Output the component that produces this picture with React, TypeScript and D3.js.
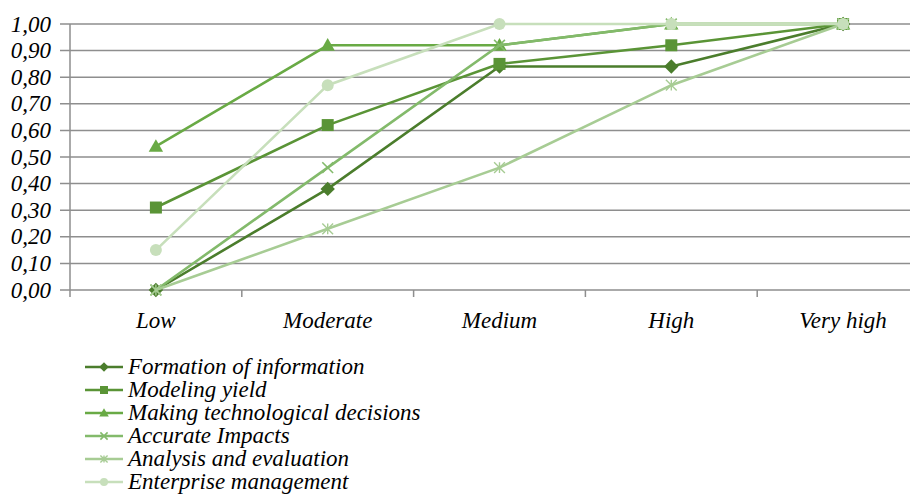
import React from "react";
import * as d3 from "d3";

const categories = ["Low", "Moderate", "Medium", "High", "Very high"];
const seriesNames = [
  "Formation of information",
  "Modeling yield",
  "Making technological decisions",
  "Accurate Impacts",
  "Analysis and evaluation",
  "Enterprise management",
];
const formation = [0, 0.38, 0.84, 0.84, 1.0];
const modeling = [0.31, 0.62, 0.85, 0.92, 1.0];
const making = [0.54, 0.92, 0.92, 1.0, 1.0];
const accurate = [0, 0.46, 0.92, 1.0, 1.0];
const analysis = [0, 0.23, 0.46, 0.77, 1.0];
const enterprise = [0.15, 0.77, 1.0, 1.0, 1.0];
const yTicks = [0, 0.1, 0.2, 0.3, 0.4, 0.5, 0.6, 0.7, 0.8, 0.9, 1.0];

const seriesValues = [formation, modeling, making, accurate, analysis, enterprise];
const colors = ["#4b7d2c", "#5a9436", "#69aa45", "#83ba6b", "#a7cc94", "#c7dfbb"];
const markers = ["diamond", "square", "triangle", "x", "star", "circle"];

const W = 910;
const H = 496;
const left = 70;
const bandW = 171.8;
const top = 24;
const bottom = 290;

function Marker({ type, x, y, color, s }: { type: string; x: number; y: number; color: string; s: number }) {
  if (type === "diamond") {
    const r = s * 0.6;
    return <path d={`M${x},${y - r}L${x + r},${y}L${x},${y + r}L${x - r},${y}Z`} fill={color} />;
  }
  if (type === "square") {
    const r = s * 0.5;
    return <rect x={x - r} y={y - r} width={2 * r} height={2 * r} fill={color} />;
  }
  if (type === "triangle") {
    const r = s * 0.6;
    return <path d={`M${x},${y - r}L${x + r},${y + r * 0.75}L${x - r},${y + r * 0.75}Z`} fill={color} />;
  }
  if (type === "circle") {
    return <circle cx={x} cy={y} r={s * 0.5} fill={color} />;
  }
  if (type === "x") {
    const r = s * 0.45;
    return (
      <path d={`M${x - r},${y - r}L${x + r},${y + r}M${x - r},${y + r}L${x + r},${y - r}`} stroke={color} strokeWidth={1.6} />
    );
  }
  const r = s * 0.45;
  return (
    <path
      d={`M${x - r},${y - r}L${x + r},${y + r}M${x - r},${y + r}L${x + r},${y - r}M${x},${y - r}L${x},${y + r}`}
      stroke={color}
      strokeWidth={1.4}
    />
  );
}

export default function App() {
  const x = d3
    .scaleBand<string>()
    .domain(categories)
    .range([left, left + bandW * categories.length]);
  const y = d3.scaleLinear().domain([0, 1]).range([bottom, top]);
  const cx = (c: string) => (x(c) as number) + x.bandwidth() / 2;
  const line = d3
    .line<number>()
    .x((_, i) => cx(categories[i]))
    .y((d) => y(d));
  const fmt = (v: number) => v.toFixed(2).replace(".", ",");
  const textStyle = { fontFamily: "Liberation Serif", fontStyle: "italic" };

  const legendY = d3.scaleLinear().domain([0, 5]).range([367, 482]);

  return (
    <svg width={W} height={H} style={{ position: "absolute", left: 0, top: 0, background: "#fff" }}>
      <rect width={W} height={H} fill="#fff" />
      {yTicks.map((t) => (
        <g key={t}>
          <line x1={left - 10} x2={W} y1={y(t)} y2={y(t)} stroke="#8e8e8e" strokeWidth={1.5} />
          <text x={51} y={y(t)} dy="0.33em" textAnchor="end" fontSize={23} fill="#000" style={textStyle}>
            {fmt(t)}
          </text>
        </g>
      ))}
      <line x1={left} x2={left} y1={top} y2={bottom + 7} stroke="#8e8e8e" strokeWidth={1.5} />
      {categories.map((c, i) => (
        <g key={c}>
          {i > 0 && (
            <line x1={x(c) as number} x2={x(c) as number} y1={bottom} y2={bottom + 7} stroke="#8e8e8e" strokeWidth={1.5} />
          )}
          <text x={cx(c)} y={328} textAnchor="middle" fontSize={23} fill="#000" style={textStyle}>
            {c}
          </text>
        </g>
      ))}
      {seriesValues.map((vals, si) => (
        <g key={si}>
          <path d={line(vals) || ""} fill="none" stroke={colors[si]} strokeWidth={2.6} />
          {vals.map((v, i) => (
            <Marker key={i} type={markers[si]} x={cx(categories[i])} y={y(v)} color={colors[si]} s={12} />
          ))}
        </g>
      ))}
      {seriesNames.map((n, i) => (
        <g key={n}>
          <line x1={85} x2={123} y1={legendY(i)} y2={legendY(i)} stroke={colors[i]} strokeWidth={2.6} />
          <Marker type={markers[i]} x={104} y={legendY(i)} color={colors[i]} s={8} />
          <text x={128} y={legendY(i)} dy="0.32em" fontSize={23} fill="#000" style={textStyle}>
            {n}
          </text>
        </g>
      ))}
    </svg>
  );
}
